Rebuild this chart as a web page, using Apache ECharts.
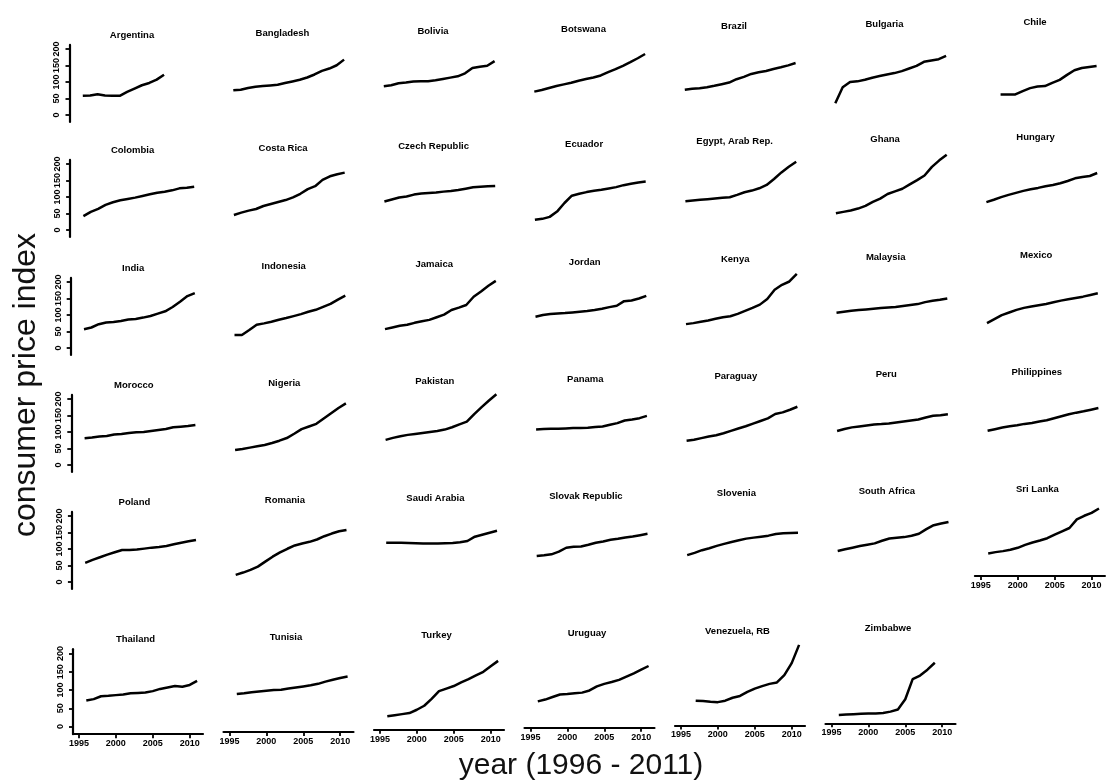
<!DOCTYPE html>
<html>
<head>
<meta charset="utf-8">
<script src="https://cdn.jsdelivr.net/npm/echarts@6/dist/echarts.min.js"></script>
<style>
html,body{margin:0;padding:0;background:#ffffff;}
#chart{width:1115px;height:781px;}
</style>
</head>
<body>
<div id="chart"></div>
<script>
// ---------- data ----------
const years = [1996,1997,1998,1999,2000,2001,2002,2003,2004,2005,2006,2007,2008,2009,2010,2011];
const countries = [
  'Argentina','Bangladesh','Bolivia','Botswana','Brazil','Bulgaria','Chile',
  'Colombia','Costa Rica','Czech Republic','Ecuador','Egypt, Arab Rep.','Ghana','Hungary',
  'India','Indonesia','Jamaica','Jordan','Kenya','Malaysia','Mexico',
  'Morocco','Nigeria','Pakistan','Panama','Paraguay','Peru','Philippines',
  'Poland','Romania','Saudi Arabia','Slovak Republic','Slovenia','South Africa','Sri Lanka',
  'Thailand','Tunisia','Turkey','Uruguay','Venezuela, RB','Zimbabwe'
];
const argentina   = [58,59,63,59,58,58,70,80,90,97,107,122,null,null,null,null];
const bangladesh  = [68,70,75,79,81,83,85,90,95,100,107,116,127,134,144,161];
const bolivia     = [74,77,83,85,88,89,89,92,96,100,104,113,129,133,136,150];
const botswana    = [51,56,62,68,73,78,84,89,94,100,110,119,129,140,152,165];
const brazil      = [50,53,55,58,62,67,72,82,89,98,103,107,113,118,124,131];
const bulgaria    = [3,51,67,69,74,80,85,90,94,100,108,116,128,132,136,146];
const chile       = [null,null,23,23,23,33,42,47,48,58,67,82,96,103,106,109];
const colombia    = [42,55,64,76,84,90,94,98,103,108,113,116,120,126,128,131];
const costaRica   = [39,46,52,57,66,72,78,84,92,103,117,126,145,156,162,167];
const czechRep    = [73,79,85,88,94,97,99,100,103,105,108,112,116,118,119,120];
const ecuador     = [11,14,20,36,62,84,90,95,99,102,106,110,116,120,124,127];
const egypt       = [61,63,65,67,69,71,73,80,88,93,100,110,128,148,165,180];
const ghana       = [18,22,26,32,40,52,62,76,84,92,105,118,132,158,178,195];
const hungary     = [45,52,60,67,73,79,84,88,93,97,102,109,117,121,124,133];
const india       = [57,62,72,77,79,82,86,88,92,97,104,111,124,140,157,166];
const indonesia   = [33,33,48,64,68,73,79,84,90,96,103,109,118,127,140,152];
const jamaica     = [44,49,54,57,63,68,72,80,88,102,109,117,142,158,175,190];
const jordan      = [75,80,83,85,86,88,90,92,95,99,104,108,122,124,130,138];
const kenya       = [46,49,53,57,62,67,70,77,86,95,105,122,150,165,175,198];
const malaysia    = [74,77,80,82,84,86,88,90,91,94,97,100,106,110,113,117];
const mexico      = [36,48,60,68,76,82,86,90,94,99,104,108,112,116,121,126];
const morocco     = [81,83,86,88,92,94,97,99,100,103,106,109,114,116,118,121];
const nigeria     = [39,42,46,50,54,60,67,75,88,102,110,118,134,150,166,180];
const pakistan    = [63,69,74,78,81,84,87,90,94,101,110,118,141,162,182,201];
const panama      = [88,89,90,90,91,92,92,93,95,97,102,107,115,118,122,129];
const paraguay    = [47,50,55,60,64,70,77,84,91,99,107,115,128,133,141,150];
const peru        = [70,76,81,84,87,90,91,93,96,99,102,105,111,116,118,121];
const philippines = [64,69,74,78,81,85,88,92,96,102,108,114,119,123,128,133];
const poland      = [58,67,75,83,90,97,97,98,101,104,106,109,114,119,123,127];
const romania     = [15,22,30,40,55,70,83,94,104,110,115,122,132,140,147,151];
const saudiArabia = [106,106,106,105,104,103,103,103,104,105,107,111,124,130,136,142];
const slovakRep   = [59,61,64,72,84,87,88,93,99,103,108,111,115,118,122,126];
const slovenia    = [55,62,70,76,83,89,95,100,105,108,111,114,119,121,122,123];
const southAfrica = [61,66,71,76,80,84,92,99,101,103,107,113,127,139,144,149];
const sriLanka    = [47,51,54,58,64,73,80,86,93,104,114,124,150,161,170,183];
const thailand    = [71,75,83,84,86,88,91,92,93,97,103,107,111,109,114,125];
const tunisia     = [83,85,88,90,92,94,95,98,101,104,107,111,117,122,127,131];
const turkey      = [16,19,22,25,34,45,64,85,92,99,109,118,128,138,153,168];
const uruguay     = [51,56,63,70,71,73,75,81,92,99,104,110,119,128,138,148];
const venezuela   = [null,47,46,44,43,47,55,60,71,80,87,93,97,117,150,200];
const zimbabwe    = [2,3,4,5,6,6,7,11,17,45,100,110,126,145,null,null];

const cpiSeries = [
  argentina,bangladesh,bolivia,botswana,brazil,bulgaria,chile,
  colombia,costaRica,czechRep,ecuador,egypt,ghana,hungary,
  india,indonesia,jamaica,jordan,kenya,malaysia,mexico,
  morocco,nigeria,pakistan,panama,paraguay,peru,philippines,
  poland,romania,saudiArabia,slovakRep,slovenia,southAfrica,sriLanka,
  thailand,tunisia,turkey,uruguay,venezuela,zimbabwe
];
const yTickValues = [0,50,100,150,200];
const xTickValues = [1995,2000,2005,2010];
const yTitle = 'consumer price index';
const xTitle = 'year (1996 - 2011)';

// ---------- layout ----------
const FONT = '"Liberation Sans", Arial, Helvetica, sans-serif';
const X_MIN = 1994.2, X_MAX = 2011.8;
const Y_MIN = -21, Y_MAX = 212;
const NCOL = 7;
const rowZero = [115, 230, 348, 465, 582, 726.5];
const rowShiftX = [0, 0.6, 1.2, 1.8, 2.4, 3.5];

function panelRect(r, c) {
  const h = r === 5 ? 85 : 77;
  const s = h / (Y_MAX - Y_MIN);
  const zero = rowZero[r] - 2.17 * c;
  return { left: 69.5 + 150.5 * c + rowShiftX[r], top: zero - Y_MAX * s, width: 130, height: h };
}

const option = {
  animation: false,
  backgroundColor: '#ffffff',
  grid: [], xAxis: [], yAxis: [], series: [], graphic: []
};

countries.forEach((name, i) => {
  const r = Math.floor(i / NCOL), c = i % NCOL;
  const g = panelRect(r, c);
  const showX = r === 5 || (r === 4 && c === 6);
  const showY = c === 0;
  option.grid.push({
    left: g.left, top: g.top, width: g.width, height: g.height,
    containLabel: false, outerBoundsMode: 'none'
  });
  option.xAxis.push({
    gridIndex: i, type: 'value', min: X_MIN, max: X_MAX, show: showX,
    axisLine: { show: true, onZero: false, lineStyle: { color: '#000', width: 2.2 } },
    axisTick: { show: true, customValues: xTickValues, length: 4, lineStyle: { color: '#000', width: 1.8 } },
    axisLabel: { show: true, customValues: xTickValues, formatter: v => String(v), margin: 5,
      fontSize: 9, fontWeight: 'bold', color: '#000', fontFamily: FONT },
    splitLine: { show: false }
  });
  option.yAxis.push({
    gridIndex: i, type: 'value', min: Y_MIN, max: Y_MAX, show: showY,
    axisLine: { show: true, onZero: false, lineStyle: { color: '#000', width: 2.2 } },
    axisTick: { show: true, customValues: yTickValues, length: 4, lineStyle: { color: '#000', width: 1.8 } },
    axisLabel: { show: true, customValues: yTickValues, formatter: v => String(v), rotate: 90, margin: 8,
      fontSize: 9, fontWeight: 'bold', color: '#000', fontFamily: FONT },
    splitLine: { show: false }
  });
  const vals = cpiSeries[i];
  option.series.push({
    type: 'line', xAxisIndex: i, yAxisIndex: i, name: name,
    data: years.map((y, k) => vals[k] == null ? null : [y, vals[k]]).filter(d => d !== null),
    showSymbol: false, symbol: 'none', silent: true,
    lineStyle: { color: '#000', width: 2.5 }
  });
  option.graphic.push({
    type: 'text', silent: true,
    x: g.left + 62.5, y: g.top - 9.5,
    style: { text: name, align: 'center', verticalAlign: 'middle',
      fontSize: 9.5, fontWeight: 'bold', fontFamily: FONT, fill: '#000' }
  });
});

option.graphic.push({
  type: 'text', silent: true, x: 26, y: 385, rotation: Math.PI / 2,
  style: { text: yTitle, align: 'center', verticalAlign: 'middle',
    fontSize: 32, fontFamily: FONT, fill: '#111' }
});
option.graphic.push({
  type: 'text', silent: true, x: 581, y: 766,
  style: { text: xTitle, align: 'center', verticalAlign: 'middle',
    fontSize: 30, fontFamily: FONT, fill: '#111' }
});

const chart = echarts.init(document.getElementById('chart'), null, { renderer: 'canvas' });
chart.setOption(option);
</script>
</body>
</html>
